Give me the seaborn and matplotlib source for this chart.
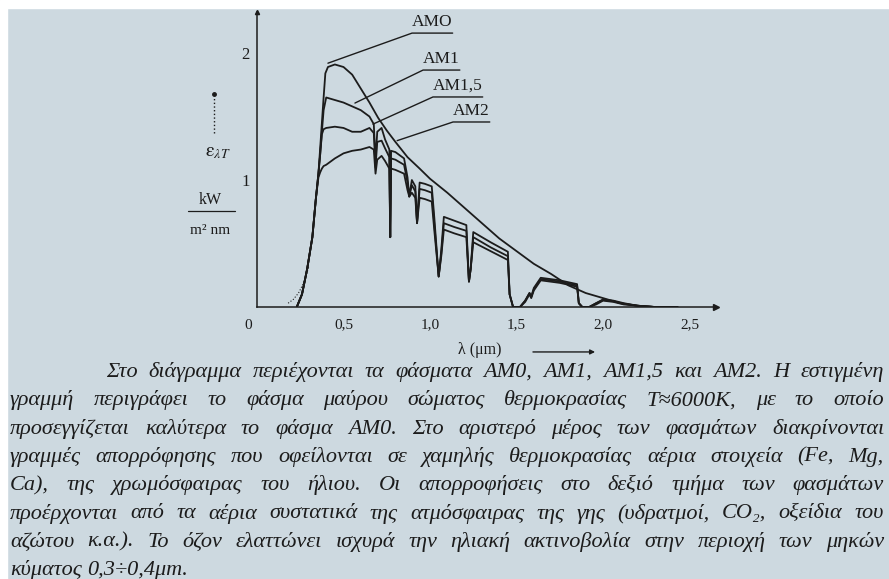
import matplotlib
matplotlib.use('Agg')
import matplotlib.pyplot as plt
import numpy as np
import pandas as pd
import seaborn as sns
from matplotlib.patches import Rectangle

# φάσμα AM0 (εκτός ατμόσφαιρας), kW/(m2 nm) ανά μm
lam0 = [0.23, 0.26, 0.29, 0.32, 0.34, 0.355, 0.37, 0.385, 0.395, 0.41, 0.45, 0.50, 0.55,
        0.60, 0.65, 0.70, 0.75, 0.80, 0.87, 0.94, 1.00, 1.10, 1.20, 1.30, 1.40, 1.50,
        1.60, 1.70, 1.80, 1.90, 2.00, 2.10, 2.20, 2.30, 2.43]
am0 = [0.00, 0.10, 0.30, 0.55, 0.85, 1.05, 1.35, 1.65, 1.84, 1.89, 1.91, 1.89, 1.83,
       1.72, 1.61, 1.49, 1.39, 1.30, 1.18, 1.09, 1.01, 0.90, 0.78, 0.66, 0.54, 0.44,
       0.34, 0.26, 0.17, 0.11, 0.07, 0.03, 0.01, 0.00, 0.00]

# AM1, AM1,5, AM2 στα ίδια μήκη κύματος
lam = [0.23, 0.26, 0.29, 0.32, 0.34, 0.355, 0.365, 0.375, 0.385, 0.40, 0.45, 0.50, 0.55,
       0.60, 0.65, 0.675, 0.685, 0.695, 0.72, 0.74, 0.765, 0.770, 0.775, 0.80, 0.85,
       0.87, 0.88, 0.895, 0.915, 0.925, 0.94, 0.97, 1.01, 1.025, 1.05, 1.065, 1.08,
       1.14, 1.21, 1.225, 1.235, 1.25, 1.35, 1.45, 1.46, 1.48, 1.52, 1.55, 1.575,
       1.585, 1.60, 1.64, 1.75, 1.85, 1.86, 1.88, 1.92, 1.96, 2.00, 2.06, 2.12, 2.20,
       2.30, 2.43]
am1 = [0.00, 0.10, 0.30, 0.55, 0.85, 1.05, 1.20, 1.38, 1.55, 1.65, 1.63, 1.61, 1.58,
       1.55, 1.50, 1.44, 1.15, 1.38, 1.41, 1.32, 1.24, 0.55, 1.23, 1.22, 1.17,
       1.02, 0.87, 1.00, 0.95, 0.66, 0.98, 0.97, 0.95, 0.70, 0.24, 0.45, 0.71,
       0.68, 0.645, 0.20, 0.30, 0.59, 0.51, 0.435, 0.10, 0.00, 0.00, 0.05, 0.11,
       0.08, 0.15, 0.23, 0.21, 0.18, 0.03, 0.00, 0.00, 0.03, 0.06, 0.05, 0.03, 0.01,
       0.00, 0.00]
am15 = [0.00, 0.10, 0.30, 0.55, 0.85, 1.05, 1.20, 1.36, 1.40, 1.41, 1.42, 1.41, 1.38,
        1.38, 1.41, 1.37, 1.10, 1.30, 1.31, 1.25, 1.18, 0.55, 1.17, 1.16, 1.12,
        0.98, 0.87, 0.96, 0.91, 0.66, 0.93, 0.92, 0.90, 0.65, 0.24, 0.42, 0.66,
        0.63, 0.60, 0.20, 0.30, 0.55, 0.47, 0.40, 0.10, 0.00, 0.00, 0.05, 0.11,
        0.08, 0.14, 0.22, 0.20, 0.17, 0.03, 0.00, 0.00, 0.03, 0.055, 0.045, 0.025, 0.01,
        0.00, 0.00]
am2 = [0.00, 0.10, 0.30, 0.55, 0.85, 1.02, 1.06, 1.09, 1.11, 1.12, 1.17, 1.21, 1.23,
       1.24, 1.26, 1.24, 1.05, 1.16, 1.19, 1.15, 1.09, 0.55, 1.09, 1.08, 1.05,
       0.92, 0.87, 0.90, 0.86, 0.66, 0.86, 0.85, 0.83, 0.60, 0.24, 0.40, 0.61,
       0.58, 0.55, 0.20, 0.30, 0.51, 0.44, 0.37, 0.10, 0.00, 0.00, 0.04, 0.10,
       0.07, 0.13, 0.21, 0.19, 0.16, 0.03, 0.00, 0.00, 0.02, 0.05, 0.04, 0.02, 0.01,
       0.00, 0.00]

# εστιγμένη γραμμή μέλανος σώματος (ορατή μόνο αριστερά)
lam_bb = [0.18, 0.21, 0.24, 0.27, 0.30]
bb = [0.03, 0.06, 0.11, 0.19, 0.32]

names = ['AMO', 'AM1', 'AM1,5', 'AM2']
xtick_vals = [0.5, 1.0, 1.5, 2.0, 2.5]
xtick_labels = ['0,5', '1,0', '1,5', '2,0', '2,5']
ytick_vals = [1, 2]
ytick_labels = ['1', '2']

caption = [
    'Στο διάγραμμα περιέχονται τα φάσματα AM0, AM1, AM1,5 και AM2. Η εστιγμένη',
    'γραμμή περιγράφει το φάσμα μαύρου σώματος θερμοκρασίας T≈6000K, με το οποίο',
    'προσεγγίζεται καλύτερα το φάσμα AM0. Στο αριστερό μέρος των φασμάτων διακρίνονται',
    'γραμμές απορρόφησης που οφείλονται σε χαμηλής θερμοκρασίας αέρια στοιχεία (Fe, Mg,',
    'Ca), της χρωμόσφαιρας του ήλιου. Οι απορροφήσεις στο δεξιό τμήμα των φασμάτων',
    'προέρχονται από τα αέρια συστατικά της ατμόσφαιρας της γης (υδρατμοί, CO₂, οξείδια του',
    'αζώτου κ.α.). Το όζον ελαττώνει ισχυρά την ηλιακή ακτινοβολία στην περιοχή των μηκών',
    'κύματος 0,3÷0,4μm.',
]

bg = '#cdd9e0'
ink = '#1c1c1c'
serif = ['Liberation Serif', 'DejaVu Serif']

sns.set_theme(style='white')
plt.rcParams['font.family'] = serif
plt.rcParams['mathtext.fontset'] = 'stix'
plt.rcParams['text.color'] = ink
plt.rcParams['xtick.color'] = ink
plt.rcParams['ytick.color'] = ink

W, H = 889, 579
fig = plt.figure(figsize=(W / 100, H / 100), dpi=100, facecolor=bg)
# λευκό περιθώριο της σάρωσης, πάνω και αριστερά
fig.patches.append(Rectangle((0, 1 - 8 / H), 1, 8 / H, transform=fig.transFigure,
                             color='white', zorder=0))
fig.patches.append(Rectangle((0, 0), 7 / W, 1, transform=fig.transFigure,
                             color='white', zorder=0))

ax = fig.add_axes([257 / W, 272 / H, 458.5 / W, 294.6 / H])
ax.set_facecolor('none')

frames = []
for n, xs, ys in zip(names, [lam0, lam, lam, lam], [am0, am1, am15, am2]):
    frames.append(pd.DataFrame({'lam': xs, 'E': ys, 'series': n}))
df = pd.concat(frames, ignore_index=True)

sns.lineplot(data=df, x='lam', y='E', hue='series', palette={n: ink for n in names},
             sort=False, estimator=None, legend=False, linewidth=1.3, ax=ax)
sns.lineplot(x=lam_bb, y=bb, sort=False, estimator=None, color=ink, linewidth=0.8,
             linestyle=':', ax=ax)

ax.set_xlim(0, 2.65)
ax.set_ylim(0, 2.32)
ax.set_xlabel('')
ax.set_ylabel('')
for s in ['top', 'right']:
    ax.spines[s].set_visible(False)
for s in ['left', 'bottom']:
    ax.spines[s].set_color(ink)
    ax.spines[s].set_linewidth(1.1)

ax.set_xticks(xtick_vals, xtick_labels)
ax.set_yticks(ytick_vals, ytick_labels)
ax.tick_params(axis='x', length=0, pad=8, labelsize=11)
ax.tick_params(axis='y', direction='inout', length=7, width=1.1, pad=2, labelsize=12)
ax.text(-0.052, -0.142, '0', ha='center', va='center', fontsize=11, clip_on=False)

# βέλη στους άξονες
ax.plot(1, 0, marker='>', ms=4, color=ink, transform=ax.get_yaxis_transform(), clip_on=False)
ax.plot(0, 1, marker='^', ms=3, color=ink, transform=ax.get_xaxis_transform(), clip_on=False)

renderer = fig.canvas.get_renderer()
inv = ax.transData.inverted()

# ετικέτες καμπυλών με υπογράμμιση και γραμμή οδηγό
label_pos = [(0.896, 2.157), (0.96, 1.866), (1.017, 1.654), (1.133, 1.457)]
label_tip = [(0.41, 1.92), (0.566, 1.606), (0.67, 1.44), (0.81, 1.31)]
for n, p, t in zip(names, label_pos, label_tip):
    txt = ax.text(p[0], p[1] + 0.025, n, ha='left', va='bottom', fontsize=12.5,
                  clip_on=False)
    bb_px = txt.get_window_extent(renderer)
    x_end = inv.transform((bb_px.x1, bb_px.y0))[0]
    ax.plot([t[0], p[0], x_end], [t[1], p[1], p[1]], color=ink, lw=1.0, clip_on=False)

# άξονας x: λ (μm) με βέλος
ax.text(1.29, -0.34, 'λ (μm)', ha='center', va='center', fontsize=11.5, clip_on=False)
ax.annotate('', xy=(1.954, -0.354), xytext=(1.595, -0.354), annotation_clip=False,
            arrowprops=dict(arrowstyle='-|>', lw=1.0, color=ink, mutation_scale=7,
                            shrinkA=0, shrinkB=0))

# άξονας y: ε_λT σε kW/(m² nm)
ax.plot([-0.249, -0.249], [1.37, 1.66], linestyle=':', color=ink, lw=1.0, clip_on=False)
ax.plot(-0.249, 1.677, marker='o', ms=2.5, color=ink, clip_on=False)
ax.text(-0.225, 1.22, r'$\mathrm{\varepsilon}_{\lambda T}$', ha='center', va='center',
        fontsize=14, clip_on=False)
ax.text(-0.272, 0.843, 'kW', ha='center', va='center', fontsize=11.5, clip_on=False)
ax.plot([-0.399, -0.127], [0.756, 0.756], color=ink, lw=0.9, clip_on=False)
ax.text(-0.272, 0.606, 'm² nm', ha='center', va='center', fontsize=11, clip_on=False)

# λεζάντα, πλήρης στοίχιση λέξη προς λέξη
left, right, indent = 10, 884, 106
for i, line in enumerate(caption):
    words = line.split()
    base = 377 + 28.3 * i
    objs = [fig.text(0, 1 - base / H, w, fontsize=16, style='italic', family=serif,
                     ha='left', va='baseline') for w in words]
    widths = [o.get_window_extent(renderer).width for o in objs]
    x0 = indent if i == 0 else left
    if i == len(caption) - 1 or len(words) < 2:
        gap = 5
    else:
        gap = (right - x0 - sum(widths)) / (len(words) - 1)
    x = x0
    for o, w in zip(objs, widths):
        o.set_x(x / W)
        x += w + gap

plt.savefig('out.png', dpi=100, facecolor=bg)
